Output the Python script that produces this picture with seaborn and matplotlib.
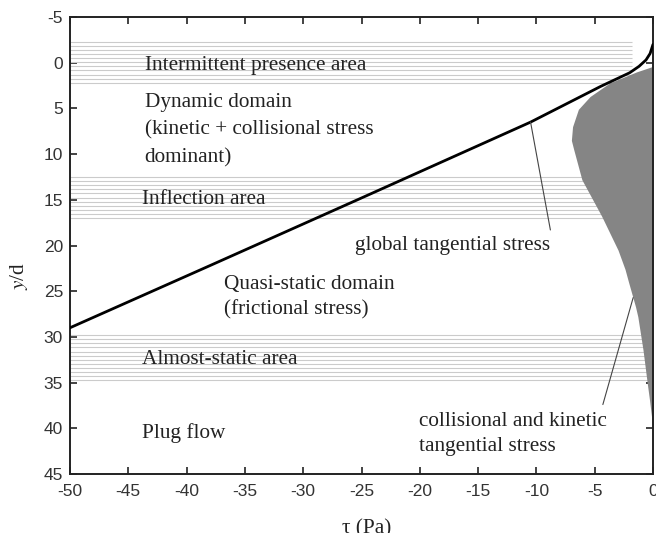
import numpy as np
import pandas as pd
import matplotlib
matplotlib.use("Agg")
import matplotlib.pyplot as plt
import seaborn as sns

# Global tangential stress profile (tau in Pa vs depth y/d)
global_tau = [-50.0, -38.0, -25.0, -10.5, -4.5, -3.0, -2.0, -1.2, -0.6, -0.25, 0.0]
global_y = [29.0, 22.2, 14.8, 6.5, 2.6, 1.7, 1.1, 0.4, -0.3, -1.0, -2.0]

# Collisional + kinetic tangential stress envelope
coll_y = [0.4, 1.0, 2.2, 3.7, 5.1, 7.0, 8.5, 9.5, 12.8, 16.8, 20.5, 22.6,
          24.0, 26.7, 27.8, 31.4, 35.0, 36.9, 39.0, 40.0]
coll_tau = [0.0, -1.4, -3.7, -5.4, -6.4, -6.9, -7.0, -6.8, -6.1, -4.4, -3.0, -2.4,
            -2.1, -1.5, -1.3, -0.86, -0.5, -0.3, -0.1, 0.0]

# Flow regime bands: (top, bottom, right end in tau)
band_top = [-2.3, 12.5, 29.8]
band_bottom = [2.2, 17.2, 35.0]
band_end = [-1.8, -1.0, -0.4]

x_ticks = [-50, -45, -40, -35, -30, -25, -20, -15, -10, -5, 0]
y_ticks = [-5, 0, 5, 10, 15, 20, 25, 30, 35, 40, 45]

sns.set_theme(style="white")
plt.rcParams["font.family"] = ["Liberation Serif", "DejaVu Serif"]
plt.rcParams["mathtext.fontset"] = "stix"

fig = plt.figure(figsize=(6.56, 5.33), dpi=100)
ax = fig.add_axes([70 / 656, (533 - 474) / 533, 583 / 656, 457 / 533])

# hatched regime bands
for top, bot, end in zip(band_top, band_bottom, band_end):
    for yy in np.arange(top, bot + 1e-6, 0.45):
        ax.hlines(yy, -50, end, color="#cbcbcb", lw=0.8, zorder=1)

ax.fill_betweenx(coll_y, coll_tau, 0, color="#858585", lw=0, zorder=2)

df = pd.DataFrame({"tau": global_tau, "y": global_y})
sns.lineplot(data=df, x="tau", y="y", sort=False, estimator=None,
             color="black", lw=2.0, ax=ax, zorder=3)

ax.set_xlim(-50, 0)
ax.set_ylim(45, -5)
ax.set_xticks(x_ticks)
ax.set_yticks(y_ticks)
ax.set_xticklabels([str(t) for t in x_ticks], family="Liberation Sans",
                   fontsize=12.5, color="#333333")
ax.set_yticklabels([str(t) for t in y_ticks], family="Liberation Sans",
                   fontsize=12.5, color="#333333")
ax.tick_params(direction="in", length=5, width=1.2, top=True, right=True,
               bottom=True, left=True, color="#222222")
ax.tick_params(axis="x", pad=7)
ax.tick_params(axis="y", pad=5)
for s in ax.spines.values():
    s.set_color("#222222")
    s.set_linewidth(1.4)

ax.set_xlabel(r"τ (Pa)", fontsize=15.3, color="#222222")
ax.set_ylabel(r"$y$/d", fontsize=15.3, color="#222222")
ax.xaxis.set_label_coords(0.509, -0.10)
ax.yaxis.set_label_coords(-0.069, 0.433)

txt = dict(fontsize=15.3, color="#222222", va="center", ha="left", zorder=4)
ax.text(-43.6, 0.3, "Intermittent presence area", **txt)
ax.text(-43.6, 4.4, "Dynamic domain", **txt)
ax.text(-43.6, 7.4, "(kinetic + collisional stress", **txt)
ax.text(-43.6, 10.4, "dominant)", **txt)
ax.text(-43.8, 15.0, "Inflection area", **txt)
ax.text(-36.8, 24.3, "Quasi-static domain", **txt)
ax.text(-36.8, 27.0, "(frictional stress)", **txt)
ax.text(-43.8, 32.5, "Almost-static area", **txt)
ax.text(-43.8, 40.5, "Plug flow", **txt)
ax.text(-25.6, 20.0, "global tangential stress", **txt)
ax.text(-20.1, 39.3, "collisional and kinetic", **txt)
ax.text(-20.1, 42.0, "tangential stress", **txt)

# leader lines
ax.plot([-10.5, -8.8], [6.5, 18.3], color="#444444", lw=0.8, zorder=4)
ax.plot([-1.7, -4.3], [25.7, 37.4], color="#444444", lw=0.8, zorder=4)

fig.savefig("out.png", dpi=100, facecolor="white")
